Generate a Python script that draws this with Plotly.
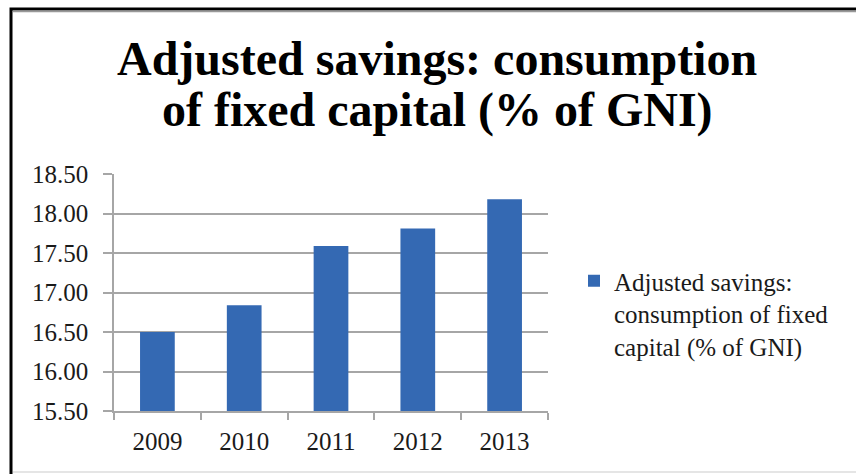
import plotly.graph_objects as go

years = ["2009", "2010", "2011", "2012", "2013"]
values = [16.50, 16.84, 17.59, 17.81, 18.18]
series_name = "Adjusted savings:<br>consumption of fixed<br>capital (% of GNI)"
title_line1 = "Adjusted savings: consumption"
title_line2 = "of fixed capital (% of GNI)"
y_ticks = [15.5, 16.0, 16.5, 17.0, 17.5, 18.0, 18.5]

FONT = "Liberation Serif"
GRID = "#a6a6a6"

fig = go.Figure()
fig.add_trace(go.Bar(
    x=years, y=values, name=series_name,
    marker=dict(color="#3469b3", line=dict(width=0)),
    showlegend=True,
))

L, R, T, B = 114, 308, 174, 63
W, H = 856, 474
pw, ph = W - L - R, H - T - B

def px(xp):
    return (xp - L) / pw

def py(yp):
    return (H - B - yp) / ph

fig.update_layout(
    width=W, height=H,
    margin=dict(l=L, r=R, t=T, b=B, pad=0),
    paper_bgcolor="white", plot_bgcolor="white",
    font=dict(family=FONT, color="#1a1a1a", size=25),
    bargap=0.6,
    showlegend=True,
    legend=dict(
        x=px(574), y=py(258), xanchor="left", yanchor="top",
        font=dict(family=FONT, size=25, color="#1a1a1a"),
        valign="top", bgcolor="rgba(0,0,0,0)",
    ),
    xaxis=dict(
        type="category", showgrid=False, showline=True, linecolor=GRID, linewidth=1.5,
        ticks="outside", tickson="boundaries", ticklen=7, tickcolor=GRID, tickwidth=1.5,
        ticklabelstandoff=7,
        tickfont=dict(family=FONT, size=25, color="#1a1a1a"),
    ),
    yaxis=dict(
        range=[15.5, 18.5], tickvals=y_ticks, tickformat=".2f",
        showgrid=True, gridcolor=GRID, gridwidth=1.5,
        showline=True, linecolor=GRID, linewidth=1.5,
        ticks="outside", ticklen=9, tickcolor=GRID, tickwidth=1.5,
        ticklabelstandoff=10,
        tickfont=dict(family=FONT, size=25, color="#1a1a1a"),
        zeroline=False,
    ),
    annotations=[
        dict(text="<b>%s</b>" % title_line1, x=px(437), y=py(59), xref="paper", yref="paper",
             xanchor="center", yanchor="middle", showarrow=False,
             font=dict(family=FONT, size=48, color="black")),
        dict(text="<b>%s</b>" % title_line2, x=px(437), y=py(110), xref="paper", yref="paper",
             xanchor="center", yanchor="middle", showarrow=False,
             font=dict(family=FONT, size=48, color="black")),
    ],
    shapes=[
        dict(type="rect", xref="paper", yref="paper",
             x0=px(11), x1=px(880), y0=py(9), y1=py(490),
             line=dict(color="black", width=3), fillcolor="rgba(0,0,0,0)", layer="below"),
        dict(type="line", xref="paper", yref="paper",
             x0=px(13), x1=px(880), y0=py(11.5), y1=py(11.5),
             line=dict(color="#999999", width=1.5), layer="below"),
        dict(type="line", xref="paper", yref="paper",
             x0=px(13), x1=px(880), y0=py(472), y1=py(472),
             line=dict(color="#dddddd", width=1.5), layer="below"),
    ],
)

fig.write_html(
    "out.html",
    config={"displayModeBar": False},
    post_script="document.body.style.margin='0';document.body.style.overflow='hidden';",
)
